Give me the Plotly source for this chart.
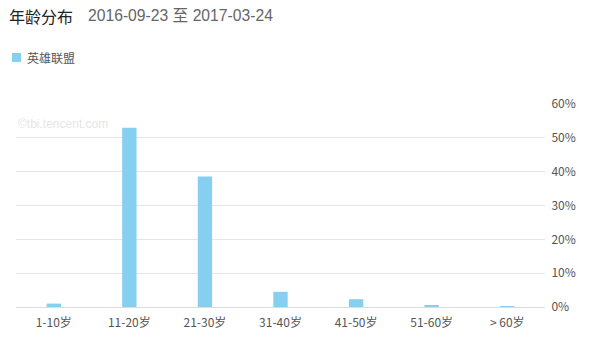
import plotly.graph_objects as go

categories = ["1-10岁", "11-20岁", "21-30岁", "31-40岁", "41-50岁", "51-60岁", "> 60岁"]
values = [1.0, 53.0, 38.6, 4.5, 2.3, 0.35, 0.15]
series_name = "英雄联盟"
title_text = "年龄分布"
date_text = "2016-09-23 至 2017-03-24"
watermark = "©tbi.tencent.com"
bar_color = "#86cff0"

W, H = 600, 340
L, R, T, B = 16, 55, 104, 33
pw = W - L - R
ph = H - T - B


def px_x(x):
    return (x - L) / pw


def px_y(y):
    return 1 - (y - T) / ph


font_cjk = "Noto Sans CJK SC, Liberation Sans, sans-serif"

fig = go.Figure()
fig.add_trace(go.Bar(
    x=categories, y=values, name=series_name,
    marker=dict(color=bar_color, line=dict(width=0)),
    showlegend=False,
))

fig.update_layout(
    width=W, height=H,
    margin=dict(l=L, r=R, t=T, b=B, pad=0, autoexpand=False),
    paper_bgcolor="white", plot_bgcolor="white",
    bargap=0.81,
    font=dict(family=font_cjk, size=12, color="#555"),
    showlegend=False,
    xaxis=dict(
        showgrid=False, showline=False, zeroline=False,
        ticks="outside", ticklen=5, tickcolor="rgba(0,0,0,0)",
        tickfont=dict(size=12, color="#555", family=font_cjk),
        fixedrange=True, automargin=False,
    ),
    yaxis=dict(
        side="right", range=[0, 60], dtick=10, ticksuffix="%",
        showgrid=True, gridcolor="#e6e6e6", gridwidth=1,
        zeroline=True, zerolinecolor="#dcdcdc", zerolinewidth=1,
        showline=False, ticks="outside", ticklen=3, tickcolor="rgba(0,0,0,0)",
        tickfont=dict(size=12, color="#555", family=font_cjk),
        automargin=False,
    ),
    shapes=[
        dict(type="rect", xref="paper", yref="paper",
             x0=px_x(12), x1=px_x(21), y0=px_y(62), y1=px_y(53),
             fillcolor=bar_color, line=dict(width=0)),
    ],
    annotations=[
        dict(text=title_text, xref="paper", yref="paper",
             x=px_x(7), y=px_y(15.5), xanchor="left", yanchor="middle",
             showarrow=False, font=dict(size=16, color="#222", family=font_cjk)),
        dict(text=date_text, xref="paper", yref="paper",
             x=px_x(86), y=px_y(15.5), xanchor="left", yanchor="middle",
             showarrow=False, font=dict(size=15.7, color="#666", family="Liberation Sans, Noto Sans CJK SC, sans-serif")),
        dict(text=series_name, xref="paper", yref="paper",
             x=px_x(25), y=px_y(57.5), xanchor="left", yanchor="middle",
             showarrow=False, font=dict(size=12, color="#555", family=font_cjk)),
        dict(text=watermark, xref="paper", yref="paper",
             x=0, y=px_y(124), xanchor="left", yanchor="middle",
             showarrow=False, font=dict(size=12, color="#e6e6e6", family="Liberation Sans, sans-serif")),
    ],
)

fig.write_html("out.html")
